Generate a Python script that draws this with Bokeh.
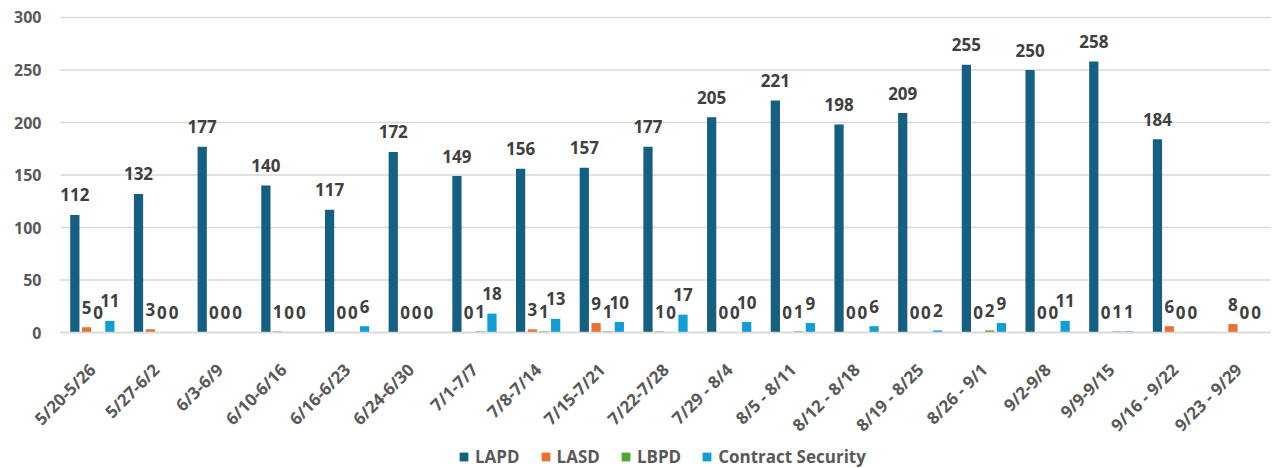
from bokeh.plotting import figure
from bokeh.core.properties import value
from bokeh.models import (ColumnDataSource, LabelSet, Legend, LegendItem,
                          Range1d, FixedTicker)
from bokeh.transform import dodge
from bokeh.embed import file_html
from bokeh.resources import INLINE

weeks = ["5/20-5/26", "5/27-6/2", "6/3-6/9", "6/10-6/16", "6/16-6/23",
         "6/24-6/30", "7/1-7/7", "7/8-7/14", "7/15-7/21", "7/22-7/28",
         "7/29 - 8/4", "8/5 - 8/11", "8/12 - 8/18", "8/19 - 8/25",
         "8/26 - 9/1", "9/2-9/8", "9/9-9/15", "9/16 - 9/22", "9/23 - 9/29"]
lapd = [112, 132, 177, 140, 117, 172, 149, 156, 157, 177, 205, 221, 198,
        209, 255, 250, 258, 184, None]
lasd = [5, 3, 0, 1, 0, 0, 0, 3, 9, 1, 0, 0, 0, 0, 0, 0, 0, 6, 8]
lbpd = [0, 0, 0, 0, 0, 0, 1, 1, 1, 0, 0, 1, 0, 0, 2, 0, 1, 0, 0]
contract = [11, 0, 0, 0, 6, 0, 18, 13, 10, 17, 10, 9, 6, 2, 9, 11, 1, 0, 0]
y_ticks = [0, 50, 100, 150, 200, 250, 300]

series = [("LAPD", lapd, "#156082"),
          ("LASD", lasd, "#E97132"),
          ("LBPD", lbpd, "#4EA72E"),
          ("Contract Security", contract, "#0F9ED5")]
offsets = [-0.275, -0.09, 0.09, 0.275]
BAR_W = 0.145
n = len(weeks)
idx = list(range(n))

# The frame fills the whole figure; the ranges put the category block at
# x 60..1270 px and the value 0 at y 332 px, 300 at y 17 px.
p = figure(x_range=Range1d(-1.4422, n - 0.2487),
           y_range=Range1d(-129.52, 316.19),
           width=1286, height=468, output_backend="svg",
           toolbar_location=None, min_border_left=0, min_border_right=0,
           min_border_top=0, min_border_bottom=0)
p.outline_line_color = None
p.background_fill_color = "white"
p.border_fill_color = "white"
p.xgrid.grid_line_color = None
p.ygrid.grid_line_color = None

# horizontal gridlines across the category block
p.segment(x0=-0.5, x1=n - 0.5, y0=y_ticks, y1=y_ticks,
          line_color="#D9D9D9", line_width=1.5)

items = []
for (name, vals, color), off in zip(series, offsets):
    xs = [i for i, v in zip(idx, vals) if v is not None]
    ys = [v for v in vals if v is not None]
    src = ColumnDataSource(dict(x=xs, y=ys, t=[str(v) for v in ys]))
    r = p.vbar(x=dodge("x", off), top="y", width=BAR_W,
               source=src, fill_color=color, line_color=None)
    items.append(LegendItem(label=name, renderers=[r]))
    lbl = LabelSet(x=dodge("x", off), y="y", text="t",
                   source=src, text_align="center", text_baseline="middle",
                   y_offset=20, text_font=value("Open Sans"),
                   text_font_size=value("17px"),
                   text_font_style=value("bold"), text_color=value("#404040"))
    p.add_layout(lbl)

# y axis
p.yaxis.fixed_location = -0.5
p.yaxis.ticker = FixedTicker(ticks=y_ticks)
p.yaxis.axis_line_color = None
p.yaxis.major_tick_line_color = None
p.yaxis.minor_tick_line_color = None
p.yaxis.major_tick_in = 0
p.yaxis.major_tick_out = 0
p.yaxis.major_label_text_font = "Open Sans"
p.yaxis.major_label_text_font_size = "16px"
p.yaxis.major_label_text_font_style = "bold"
p.yaxis.major_label_text_color = "#595959"
p.yaxis.major_label_standoff = 19

# x axis (category labels)
p.xaxis.fixed_location = 0
p.xaxis.bounds = (-0.5, n - 0.5)
p.xaxis.ticker = FixedTicker(ticks=idx)
p.xaxis.major_label_overrides = {i: w for i, w in zip(idx, weeks)}
p.xaxis.axis_line_color = "#D9D9D9"
p.xaxis.axis_line_width = 1.5
p.xaxis.major_tick_line_color = None
p.xaxis.minor_tick_line_color = None
p.xaxis.major_tick_in = 0
p.xaxis.major_tick_out = 0
p.xaxis.major_label_orientation = 0.785398
p.xaxis.major_label_text_font = "Open Sans"
p.xaxis.major_label_text_font_size = "17px"
p.xaxis.major_label_text_font_style = "bold"
p.xaxis.major_label_text_color = "#595959"
p.xaxis.major_label_standoff = 34

legend = Legend(items=items, orientation="horizontal", location=(458, 0),
                glyph_width=11, glyph_height=11, label_standoff=6, spacing=20,
                label_height=22,
                label_text_font="Open Sans", label_text_font_size="17px",
                label_text_font_style="bold", label_text_color="#595959",
                border_line_color=None, background_fill_alpha=0,
                padding=0, margin=0)
p.add_layout(legend, "center")

open("out.html", "w").write(file_html(p, INLINE))
